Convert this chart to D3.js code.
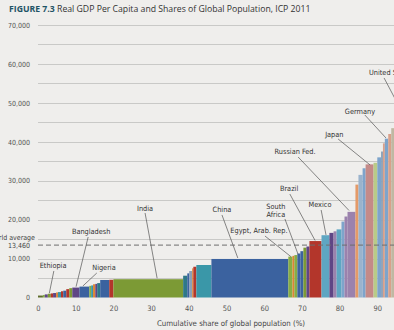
<!DOCTYPE html>
<html>
<head>
<meta charset="utf-8">
<script src="https://cdn.jsdelivr.net/npm/d3@7"></script>
<style>
    html, body { margin: 0; padding: 0; background: #efeeec; overflow: hidden; }
    svg { display: block; }
    .lbl { font-family: "Liberation Sans Narrow", "DejaVu Sans Condensed", sans-serif; font-stretch: condensed; }
</style>
</head>
<body>
<div id="chart"></div>
<script>
// population share of each bar (% of world), sorted by GDP per capita
var shares = [1.3, 0.5, 0.8, 0.8, 0.6, 0.8, 0.5, 0.8, 0.6, 0.8, 0.8, 0.8, 1.9, 2.6, 0.5, 0.5, 0.6, 0.5, 0.8, 2.4, 1.1,
    18.5, 1.1, 0.5, 0.8, 0.3, 0.8, 4.0, 20.4, 1.1, 0.5, 0.8, 0.8, 0.8, 0.8, 0.8, 3.2, 2.1, 1.1, 0.8, 1.3, 0.8, 0.8,
    2.1, 0.8, 1.1, 0.8, 2.1, 1.0, 1.0, 0.5, 0.5, 0.9, 0.8, 0.8, 0.6, 4.5, 0.4];
// real GDP per capita (US$, PPP)
var gdpPerCapita = [500, 650, 800, 950, 1050, 1150, 1300, 1400, 1600, 1750, 2150, 2400, 2550, 2800, 3000, 3100, 3400, 3500, 3700, 4500, 4550,
    4700, 5600, 6200, 6800, 7500, 7900, 8350, 9900, 10500, 10700, 10900, 11300, 11900, 12800, 13100, 14500, 16000, 16600, 17000, 17500, 19500, 20800,
    22000, 29000, 31500, 33200, 34200, 34600, 36000, 37500, 39600, 40800, 42000, 43500, 46000, 49800, 62000];
var yTicks = [0, 10000, 20000, 30000, 40000, 50000, 60000, 70000];
var xTicks = [0, 10, 20, 30, 40, 50, 60, 70, 80, 90];
var worldAverage = 13460;
// labelled countries: label anchor (share, gdp) and leader line end points
var annoNames = ["Ethiopia", "Bangladesh", "Nigeria", "India", "China", "Egypt, Arab. Rep.", "South|Africa", "Brazil", "Mexico", "Russian Fed.", "Japan", "Germany", "United States"];
var annoLabelAt = [[4.0, 7580], [14.1, 16310], [17.5, 7070], [28.4, 22220], [48.8, 21970], [58.6, 16570], [63.1, 22610], [66.6, 27360], [74.8, 23250], [68.2, 36990], [78.6, 41230], [85.4, 47140], [87.8, 57160]];
var annoLineFrom = [[4.2, 6810], [13.3, 15540], [15.6, 6290], [28.4, 21710], [48.8, 21200], [60.2, 15800], [65.5, 20170], [66.8, 26590], [75.1, 22480], [69.0, 36090], [79.6, 40720], [86.7, 46880], [91.8, 56390]];
var annoLineTo = [[3.0, 1080], [10.1, 2770], [11.9, 2950], [31.6, 4930], [53.0, 10150], [67.1, 10480], [69.0, 11050], [73.5, 14640], [76.4, 16060], [82.5, 22350], [88.1, 34040], [92.3, 40980], [96.0, 48680]];

var palette = {
    olive: "#7c9a35", dkolive: "#5f6d2c", green: "#86ad46", purple: "#5f4685", red: "#b3362b", blue: "#3b629f",
    teal: "#3a97a8", dkteal: "#2e7888", orange: "#de8433", ltblue: "#5ea6c2", mauve: "#9b82ad", peach: "#e49a68",
    grey: "#9ab3cc", rose: "#c48a88", ltgreen: "#b9cb88", sky: "#7ea4cb", slate: "#8aa0b8", salmon: "#d9a08a", tan: "#c0b8a2"
};
var barFills = ["dkolive", "green", "purple", "olive", "red", "purple", "orange", "teal", "red", "blue", "red", "olive", "purple", "blue",
    "green", "teal", "orange", "purple", "dkteal", "blue", "red", "olive", "dkteal", "blue", "slate", "orange", "red", "teal", "blue",
    "green", "orange", "green", "blue", "blue", "olive", "purple", "red", "ltblue", "purple", "mauve", "ltblue", "sky", "mauve", "mauve",
    "peach", "grey", "sky", "rose", "ltgreen", "sky", "slate", "salmon", "sky", "salmon", "tan", "sky", "tan", "rose"];

var width = 394, height = 330;
var x = d3.scaleLinear().domain([0, 100]).range([38, 415]);
var y = d3.scaleLinear().domain([0, 70000]).range([297.5, 25]);

var svg = d3.select("#chart").append("svg")
    .attr("width", width)
    .attr("height", height);

// title
var title = svg.append("text")
    .attr("x", 9)
    .attr("y", 12)
    .style("font-family", "'Open Sans', sans-serif")
    .style("font-size", "8.7px")
    .style("fill", "#333");
title.append("tspan").text("FIGURE 7.3 ").style("font-weight", "bold").style("fill", "#1e5466");
title.append("tspan").text("Real GDP Per Capita and Shares of Global Population, ICP 2011");

// grid lines
svg.append("g").selectAll("line")
    .data(d3.range(5000, 70001, 5000))
    .enter()
    .append("line")
    .attr("x1", x(0))
    .attr("x2", width)
    .attr("y1", d => Math.round(y(d)) + 0.5)
    .attr("y2", d => Math.round(y(d)) + 0.5)
    .style("stroke", "#c9c9c7")
    .style("stroke-width", 1);

// y axis labels
var yAxis = d3.axisLeft(y).tickValues(yTicks).tickSize(0).tickPadding(0)
    .tickFormat(d => d3.format(",")(d));
svg.append("g")
    .attr("transform", "translate(30, 0)")
    .call(yAxis)
    .call(g => g.select(".domain").remove())
    .selectAll("text")
    .attr("class", "lbl")
    .style("font-size", "7px")
    .style("fill", "#555");

// x axis labels
var xAxis = d3.axisBottom(x).tickValues(xTicks).tickSize(0).tickPadding(0);
svg.append("g")
    .attr("transform", "translate(0, 306)")
    .call(xAxis)
    .call(g => g.select(".domain").remove())
    .selectAll("text")
    .attr("class", "lbl")
    .style("font-size", "7.5px")
    .style("fill", "#555");

svg.append("text")
    .attr("class", "lbl")
    .attr("x", 231)
    .attr("y", 326)
    .attr("text-anchor", "middle")
    .style("font-size", "7.8px")
    .style("fill", "#444")
    .text("Cumulative share of global population (%)");

// bars, variable width
var starts = [];
var acc = 0;
shares.forEach(s => { starts.push(acc); acc += s; });
svg.append("g").selectAll("rect")
    .data(gdpPerCapita)
    .enter()
    .append("rect")
    .attr("x", (d, i) => x(starts[i]))
    .attr("width", (d, i) => x(starts[i] + shares[i]) - x(starts[i]))
    .attr("y", d => y(d))
    .attr("height", d => y(0) - y(d))
    .style("fill", (d, i) => palette[barFills[i]]);

// world average
svg.append("line")
    .attr("x1", x(0))
    .attr("x2", width)
    .attr("y1", y(worldAverage))
    .attr("y2", y(worldAverage))
    .style("stroke", "#6d6d6d")
    .style("stroke-width", 1)
    .style("stroke-dasharray", "5,3");
svg.append("text")
    .attr("class", "lbl")
    .attr("x", 35)
    .attr("y", y(worldAverage) - 5.5)
    .attr("text-anchor", "end")
    .style("font-size", "7px")
    .style("fill", "#444")
    .text("World average");
svg.append("text")
    .attr("class", "lbl")
    .attr("x", 30)
    .attr("y", y(worldAverage) + 2.5)
    .attr("text-anchor", "end")
    .style("font-size", "7px")
    .style("fill", "#444")
    .text("13,460");

// annotations
annoNames.forEach((name, i) => {
    svg.append("line")
        .attr("x1", x(annoLineFrom[i][0]))
        .attr("y1", y(annoLineFrom[i][1]))
        .attr("x2", x(annoLineTo[i][0]))
        .attr("y2", y(annoLineTo[i][1]))
        .style("stroke", "#555")
        .style("stroke-width", 0.7);
    var t = svg.append("text")
        .attr("class", "lbl")
        .attr("x", x(annoLabelAt[i][0]))
        .attr("y", y(annoLabelAt[i][1]))
        .attr("text-anchor", name == "United States" ? "start" : "middle")
        .style("font-size", "7.3px")
        .style("fill", "#333");
    name.split("|").forEach((part, j) => {
        t.append("tspan")
            .attr("x", x(annoLabelAt[i][0]))
            .attr("dy", j == 0 ? 0 : "1.05em")
            .style("fill", "#333")
            .text(part);
    });
});
</script>
</body>
</html>
